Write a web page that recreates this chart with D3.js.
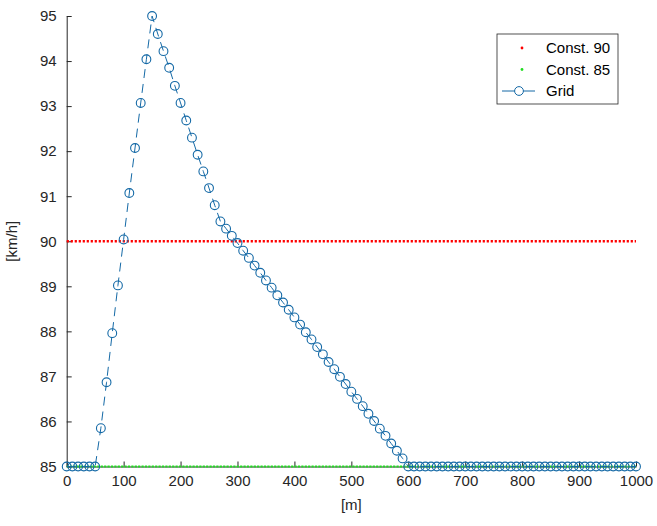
<!DOCTYPE html>
<html>
<head>
<meta charset="utf-8">
<script src="https://cdn.jsdelivr.net/npm/d3@7"></script>
<style>
  body { margin: 0; background: #fff; }
  svg { font-family: "Liberation Sans", Arial, sans-serif; }
</style>
</head>
<body>
<script>
// distance along the route [m]
const distances = [
    0, 10, 20, 30, 40, 50, 60, 70, 80, 90,
    100, 110, 120, 130, 140, 150, 160, 170, 180, 190,
    200, 210, 220, 230, 240, 250, 260, 270, 280, 290,
    300, 310, 320, 330, 340, 350, 360, 370, 380, 390,
    400, 410, 420, 430, 440, 450, 460, 470, 480, 490,
    500, 510, 520, 530, 540, 550, 560, 570, 580, 590,
    600, 610, 620, 630, 640, 650, 660, 670, 680, 690,
    700, 710, 720, 730, 740, 750, 760, 770, 780, 790,
    800, 810, 820, 830, 840, 850, 860, 870, 880, 890,
    900, 910, 920, 930, 940, 950, 960, 970, 980, 990,
    1000
];

// speed of the "Grid" solution [km/h]
const gridSpeeds = [
    85, 85, 85, 85, 85, 85, 85.85, 86.87, 87.96, 89.02,
    90.04, 91.07, 92.07, 93.07, 94.04, 95, 94.6, 94.22, 93.85, 93.45,
    93.07, 92.68, 92.3, 91.92, 91.55, 91.18, 90.8, 90.44, 90.28, 90.12,
    89.96, 89.79, 89.63, 89.46, 89.3, 89.13, 88.97, 88.8, 88.64, 88.48,
    88.31, 88.15, 87.98, 87.82, 87.65, 87.49, 87.32, 87.16, 86.99, 86.83,
    86.66, 86.5, 86.34, 86.17, 86.01, 85.84, 85.68, 85.51, 85.35, 85.18,
    85, 85, 85, 85, 85, 85, 85, 85, 85, 85,
    85, 85, 85, 85, 85, 85, 85, 85, 85, 85,
    85, 85, 85, 85, 85, 85, 85, 85, 85, 85,
    85, 85, 85, 85, 85, 85, 85, 85, 85, 85,
    85
];

// constant reference speeds
const const90 = [[0, 90], [1000, 90]];
const const85 = [[0, 85], [1000, 85]];

const xTicks = [0, 100, 200, 300, 400, 500, 600, 700, 800, 900, 1000];
const yTicks = [85, 86, 87, 88, 89, 90, 91, 92, 93, 94, 95];

const legendItems = ["Const. 90", "Const. 85", "Grid"];

const W = 657, H = 526;
const margin = { top: 16, right: 21, bottom: 59.5, left: 66.7 };
const width = W - margin.left - margin.right;
const height = H - margin.top - margin.bottom;

const axisColor = "#262626";
const gridColor = "#1469a6";

const svg = d3.select("body").append("svg")
    .attr("width", W)
    .attr("height", H);

const g = svg.append("g")
    .attr("transform", `translate(${margin.left}, ${margin.top})`);

const x = d3.scaleLinear().domain([0, 1000]).range([0, width]);
const y = d3.scaleLinear().domain([85, 95]).range([height, 0]);

// axes, ticks pointing inward like matlab
const xAxis = g.append("g")
    .attr("transform", `translate(0, ${height})`)
    .call(d3.axisBottom(x).tickValues(xTicks).tickFormat(d3.format("d"))
        .tickSize(-5).tickPadding(9).tickSizeOuter(0));

const yAxis = g.append("g")
    .call(d3.axisLeft(y).tickValues(yTicks).tickFormat(d3.format("d"))
        .tickSize(-5).tickPadding(10).tickSizeOuter(0));

[xAxis, yAxis].forEach(a => {
    a.select(".domain").attr("stroke", axisColor);
    a.selectAll(".tick line").attr("stroke", axisColor);
    a.selectAll(".tick text")
        .attr("fill", axisColor)
        .style("font-size", "15px")
        .style("font-family", "'Liberation Sans', Arial, sans-serif");
});

// axis titles
g.append("text")
    .attr("x", width / 2)
    .attr("y", height + 43)
    .attr("text-anchor", "middle")
    .attr("fill", axisColor)
    .style("font-size", "15px")
    .text("[m]");

g.append("text")
    .attr("transform", "rotate(-90)")
    .attr("x", -y(90))
    .attr("y", -50)
    .attr("text-anchor", "middle")
    .attr("fill", axisColor)
    .style("font-size", "15px")
    .text("[km/h]");

const line = d3.line()
    .x(d => x(d[0]))
    .y(d => y(d[1]));

// dotted constant lines
g.append("path")
    .datum(const90)
    .attr("d", line)
    .attr("fill", "none")
    .attr("stroke", "#ff0000")
    .attr("stroke-width", 2.5)
    .attr("stroke-dasharray", "2.2,1.8");

g.append("path")
    .datum(const85)
    .attr("d", line)
    .attr("fill", "none")
    .attr("stroke", "#22dd22")
    .attr("stroke-width", 2.2)
    .attr("stroke-dasharray", "2.2,1.2");

const gridData = distances.map((d, i) => [d, gridSpeeds[i]]);

g.append("path")
    .datum(gridData)
    .attr("d", line)
    .attr("fill", "none")
    .attr("stroke", gridColor)
    .attr("stroke-width", 1)
    .attr("stroke-dasharray", "9,6");

g.selectAll(".pt")
    .data(gridData)
    .enter().append("circle")
    .attr("class", "pt")
    .attr("cx", d => x(d[0]))
    .attr("cy", d => y(d[1]))
    .attr("r", 4.4)
    .attr("fill", "none")
    .attr("stroke", gridColor)
    .attr("stroke-width", 1.1);

// legend
const legend = svg.append("g").attr("transform", "translate(497, 34)");

legend.append("rect")
    .attr("width", 121)
    .attr("height", 70)
    .attr("fill", "#fff")
    .attr("stroke", axisColor)
    .attr("stroke-width", 0.8);

legendItems.forEach((name, i) => {
    const ly = 14 + i * 21.5;
    if (i === 0) {
        legend.append("circle").attr("cx", 25).attr("cy", ly).attr("r", 1.4).attr("fill", "#ff0000");
    } else if (i === 1) {
        legend.append("circle").attr("cx", 25).attr("cy", ly).attr("r", 1.4).attr("fill", "#22dd22");
    } else {
        legend.append("line")
            .attr("x1", 5).attr("x2", 38)
            .attr("y1", ly).attr("y2", ly)
            .attr("stroke", gridColor);
        legend.append("circle")
            .attr("cx", 22).attr("cy", ly).attr("r", 4.4)
            .attr("fill", "#fff")
            .attr("stroke", gridColor);
    }
    legend.append("text")
        .attr("x", 49)
        .attr("y", ly)
        .attr("dy", "0.35em")
        .attr("fill", "#000")
        .style("font-size", "15px")
        .text(name);
});
</script>
</body>
</html>
